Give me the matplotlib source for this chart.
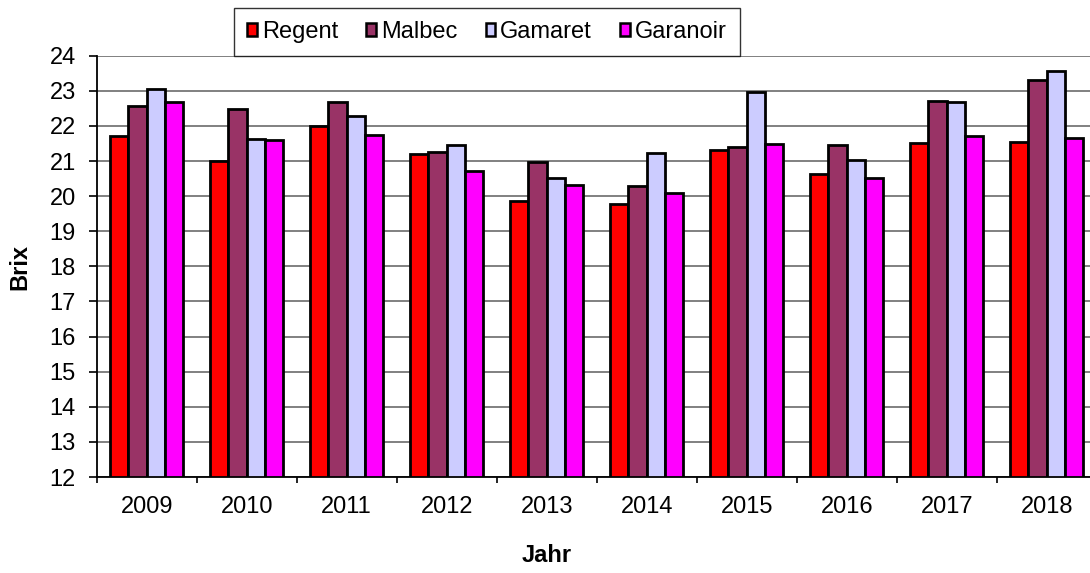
import matplotlib
matplotlib.use("Agg")
import matplotlib.pyplot as plt
from matplotlib.patches import Patch
import numpy as np

years = ["2009", "2010", "2011", "2012", "2013", "2014", "2015", "2016", "2017", "2018"]
series_names = ["Regent", "Malbec", "Gamaret", "Garanoir"]
regent = [21.71, 21.01, 22.00, 21.19, 19.85, 19.79, 21.30, 20.62, 21.50, 21.55]
malbec = [22.57, 22.47, 22.68, 21.25, 20.96, 20.29, 21.41, 21.45, 22.70, 23.31]
gamaret = [23.04, 21.64, 22.27, 21.45, 20.52, 21.24, 22.98, 21.03, 22.68, 23.55]
garanoir = [22.67, 21.60, 21.74, 20.72, 20.32, 20.10, 21.48, 20.53, 21.72, 21.67]
colors = ["#FF0000", "#993366", "#CCCCFF", "#FF00FF"]
y_ticks = list(range(12, 25))

plt.rcParams['font.family'] = ['Liberation Sans', 'DejaVu Sans']
FS = 17

fig = plt.figure(figsize=(10.9, 5.73), dpi=100)
ax = fig.add_axes([96.7/1090, 1-477/573, 1000/1090, (477-55.7)/573])

x = np.arange(len(years))
bw = 0.1833
offsets = [-1.5*bw, -0.5*bw, 0.5*bw, 1.5*bw]
data = [regent, malbec, gamaret, garanoir]
base = 12
for vals, off, c in zip(data, offsets, colors):
    ax.bar(x + off, np.array(vals) - base, bottom=base, width=bw, color=c,
           edgecolor='black', linewidth=2.0, zorder=3)

ax.set_xlim(-0.5, len(years) - 0.5)
ax.set_ylim(12, 24)
ax.set_yticks(y_ticks)
ax.set_yticklabels([str(v) for v in y_ticks], fontsize=FS)
ax.set_xticks(x)
ax.set_xticklabels(years, fontsize=FS)
ax.set_xticks(np.arange(-0.5, len(years) + 0.5, 1), minor=True)
ax.tick_params(axis='x', which='major', length=0, pad=14)
ax.tick_params(axis='x', which='minor', length=4.5, width=1.2, direction='out', color='black')
ax.tick_params(axis='y', which='major', length=6, width=1.2, direction='out', pad=9)

ax.yaxis.grid(True, color='#808080', linewidth=1.4, zorder=0)
ax.set_axisbelow(True)
for s in ['top', 'right']:
    ax.spines[s].set_visible(False)
ax.spines['left'].set_linewidth(1.3)
ax.spines['bottom'].set_linewidth(1.3)

fig.text(20/1090, 1-267/573, "Brix", fontsize=FS, fontweight='bold', ha='center', va='center', rotation=90)
fig.text(547/1090, 1-555/573, "Jahr", fontsize=FS, fontweight='bold', ha='center', va='center')

handles = [Patch(facecolor=c, edgecolor='black', linewidth=1.8) for c in colors]
leg = fig.legend(handles, series_names, loc='upper left',
                 bbox_to_anchor=(234/1090, 1-8/573), ncol=4, fontsize=FS,
                 frameon=True, fancybox=False, handlelength=0.42, handleheight=0.42,
                 handletextpad=0.2, columnspacing=1.2, borderaxespad=0, borderpad=0.55)
leg.get_frame().set_edgecolor('black')
leg.get_frame().set_linewidth(1.0)

fig.savefig("out.png", dpi=100)
